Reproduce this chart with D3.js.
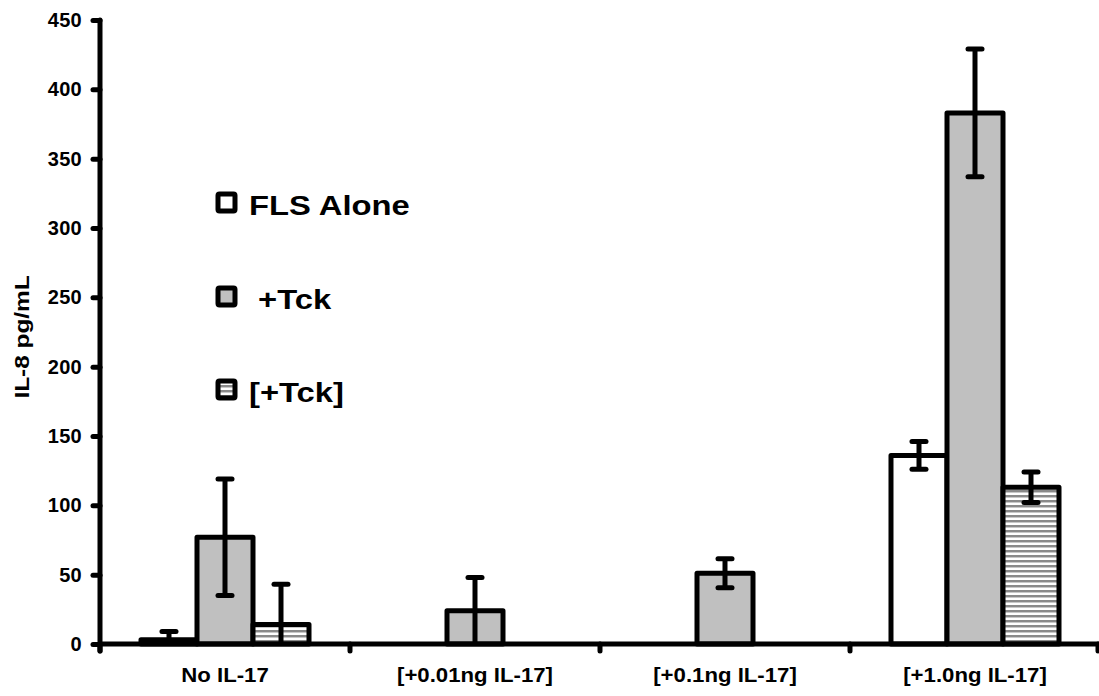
<!DOCTYPE html>
<html>
<head>
<meta charset="utf-8">
<script src="https://cdn.jsdelivr.net/npm/d3@7"></script>
<style>
  html, body { margin: 0; padding: 0; background: #fff; }
  svg { display: block; }
  text { font-family: "Liberation Sans", Arial, sans-serif; font-weight: bold; fill: #000; }
</style>
</head>
<body>
<svg id="chart" width="1099" height="696"></svg>
<script>
// ---- data ----
const categories = ["No IL-17", "[+0.01ng IL-17]", "[+0.1ng IL-17]", "[+1.0ng IL-17]"];
const seriesNames = ["FLS Alone", " +Tck", "[+Tck]"];
const flsAlone = [3, 0, 0, 136];
const flsAloneErr = [6, 0, 0, 10];
const tck = [77, 24, 51, 383];
const tckErr = [42, 24, 10.5, 46];
const bracketTck = [14, 0, 0, 113];
const bracketTckErr = [29, 0, 0, 11];
const yTicks = [0, 50, 100, 150, 200, 250, 300, 350, 400, 450];
const yLabel = "IL-8 pg/mL";

const seriesValues = [flsAlone, tck, bracketTck];
const seriesErrors = [flsAloneErr, tckErr, bracketTckErr];

const svg = d3.select("#chart");
const SW = 5;

// pattern for hatched series
const defs = svg.append("defs");
const pat = defs.append("pattern").attr("id", "hstripe")
  .attr("patternUnits", "userSpaceOnUse").attr("width", 10).attr("height", 5);
pat.append("rect").attr("width", 10).attr("height", 5).attr("fill", "#fff");
pat.append("rect").attr("y", 0).attr("width", 10).attr("height", 2).attr("fill", "#8a8a8a");
pat.append("rect").attr("y", 2).attr("width", 10).attr("height", 1).attr("fill", "#c8c8c8");

const fills = ["#ffffff", "#c0c0c0", "url(#hstripe)"];

const x0 = d3.scaleBand().domain(categories).range([100, 1100]).paddingInner(0).paddingOuter(0);
const x1 = d3.scaleBand().domain(d3.range(seriesNames.length)).range([0, x0.bandwidth()])
  .paddingInner(0).paddingOuter(0.732);
const y = d3.scaleLinear().domain([0, 450]).range([644, 20]);

// bars
const data = [];
categories.forEach((c, ci) => {
  seriesValues.forEach((vals, si) => {
    data.push({ c, si, v: vals[ci], e: seriesErrors[si][ci] });
  });
});

const gBars = svg.append("g");
gBars.selectAll("rect").data(data.filter(d => d.v > 0)).join("rect")
  .attr("x", d => x0(d.c) + x1(d.si))
  .attr("y", d => y(d.v))
  .attr("width", x1.bandwidth())
  .attr("height", d => y(0) - y(d.v))
  .attr("fill", d => fills[d.si])
  .attr("stroke", "#000")
  .attr("stroke-width", SW)
  .attr("stroke-linejoin", "round");

// error bars
const gErr = svg.append("g").attr("stroke", "#000").attr("stroke-width", SW).attr("stroke-linecap", "round");
data.filter(d => d.e > 0).forEach(d => {
  const cx = x0(d.c) + x1(d.si) + x1.bandwidth() / 2;
  const lo = Math.max(0, d.v - d.e), hi = d.v + d.e;
  gErr.append("line").attr("x1", cx).attr("x2", cx).attr("y1", y(lo)).attr("y2", y(hi)).attr("stroke-linecap", "butt");
  gErr.append("line").attr("x1", cx - 7).attr("x2", cx + 7).attr("y1", y(hi)).attr("y2", y(hi));
  if (d.v - d.e > 0) {
    gErr.append("line").attr("x1", cx - 7).attr("x2", cx + 7).attr("y1", y(lo)).attr("y2", y(lo));
  }
});

// y axis
const yAxis = d3.axisLeft(y).tickValues(yTicks).tickSize(7).tickPadding(11).tickFormat(d3.format("d"));
const gy = svg.append("g").attr("transform", "translate(100,0)").call(yAxis);
gy.select(".domain").remove();
gy.selectAll(".tick line").attr("stroke", "#000").attr("stroke-width", SW).attr("stroke-linecap", "round");
gy.selectAll(".tick text").style("font-size", "20px").style("font-family", "'Liberation Sans', Arial, sans-serif")
  .style("font-weight", "bold").style("letter-spacing", "0.3px").attr("fill", "#000");
svg.append("line").attr("x1", 100).attr("x2", 100).attr("y1", y(450)).attr("y2", 651)
  .attr("stroke", "#000").attr("stroke-width", SW).attr("stroke-linecap", "round");

// x axis
const xAxis = d3.axisBottom(x0).tickSize(0).tickPadding(0).tickFormat(() => "");
const gx = svg.append("g").attr("transform", "translate(0,644)").call(xAxis);
gx.select(".domain").remove();
gx.selectAll(".tick").append("text")
  .attr("transform", "translate(0,38) scale(1.11,1)")
  .attr("text-anchor", "middle")
  .style("font-size", "20px")
  .text(d => d);
svg.append("line").attr("x1", 98).attr("x2", 1099).attr("y1", y(0)).attr("y2", y(0))
  .attr("stroke", "#000").attr("stroke-width", SW);
// category boundary ticks
const bounds = categories.map(c => x0(c)).concat([x0.range()[1] - 2]);
svg.append("g").selectAll("line").data(bounds).join("line")
  .attr("x1", d => d).attr("x2", d => d).attr("y1", y(0)).attr("y2", y(0) + 7)
  .attr("stroke", "#000").attr("stroke-width", SW).attr("stroke-linecap", "round");

// y label
svg.append("text")
  .attr("transform", "translate(29,337) rotate(-90) scale(1.16,1)")
  .attr("text-anchor", "middle")
  .style("font-size", "21px")
  .text(yLabel);

// legend
const legend = svg.append("g");
const legendY = [192, 286, 379];
seriesNames.forEach((name, i) => {
  legend.append("rect")
    .attr("x", 218).attr("y", legendY[i] + 2)
    .attr("width", 17).attr("height", 17)
    .attr("fill", fills[i]).attr("stroke", "#000").attr("stroke-width", SW)
    .attr("rx", 1.5);
  legend.append("text")
    .attr("transform", `translate(249,${legendY[i] + 23}) scale(1.17,1)`)
    .style("font-size", "28px")
    .style("white-space", "pre")
    .attr("xml:space", "preserve")
    .text(name);
});
</script>
</body>
</html>
